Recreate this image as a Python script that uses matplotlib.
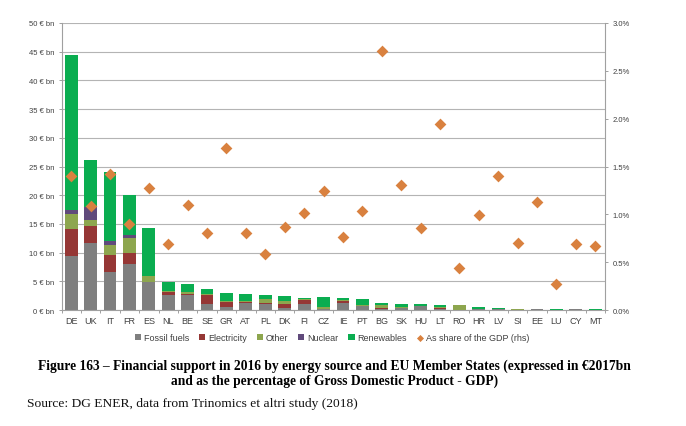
import numpy as np
import matplotlib
matplotlib.use("Agg")
import matplotlib.pyplot as plt
from matplotlib.ticker import FuncFormatter

countries = ["DE","UK","IT","FR","ES","NL","BE","SE","GR","AT","PL","DK","FI","CZ","IE","PT","BG","SK","HU","LT","RO","HR","LV","SI","EE","LU","CY","MT"]
fossil = [9.4,11.6,6.6,8.0,4.9,2.6,2.6,1.1,0.6,1.2,1.1,0.3,1.1,0.2,1.15,0.7,0.25,0.3,0.7,0.2,0.05,0.1,0.2,0.05,0.1,0.03,0.1,0.02]
electricity = [4.7,3.0,2.9,1.9,0.05,0.6,0.2,1.5,0.8,0.2,0.1,0.7,0.65,0.05,0.4,0.0,0.05,0.1,0.0,0.15,0.0,0.0,0.0,0.0,0.03,0.0,0.0,0.0]
other = [2.6,1.0,1.9,2.6,0.95,0.1,0.3,0.15,0.1,0.1,0.65,0.5,0.15,0.25,0.25,0.1,0.65,0.05,0.0,0.25,0.75,0.05,0.05,0.05,0.02,0.0,0.05,0.0]
nuclear = [0.7,2.3,0.6,0.6,0.0,0.0,0.0,0.0,0.0,0.0,0.0,0.0,0.0,0.0,0.0,0.0,0.0,0.05,0.0,0.0,0.0,0.0,0.0,0.0,0.0,0.0,0.0,0.0]
renewables = [27.0,8.3,12.1,7.0,8.4,1.5,1.5,0.95,1.4,1.3,0.7,0.9,0.25,1.7,0.25,1.1,0.35,0.6,0.3,0.2,0.05,0.35,0.1,0.15,0.1,0.07,0.05,0.1]
gdp_share = [1.40,1.09,1.42,0.90,1.28,0.69,1.10,0.80,1.69,0.81,0.59,0.87,1.01,1.24,0.76,1.03,2.71,1.31,0.86,1.94,0.44,0.99,1.40,0.70,1.13,0.27,0.69,0.67]

series_names = ["Fossil fuels","Electricity","Other","Nuclear","Renewables"]
series_colors = ["#7F7F7F","#953735","#8DA64E","#604A7B","#0AAD50"]
series_values = [fossil, electricity, other, nuclear, renewables]

plt.rcParams["font.family"] = ["Liberation Sans","DejaVu Sans"]
fig = plt.figure(figsize=(6.86,4.27), dpi=100)
W,H = 686,427
ax = fig.add_axes([61.5/W, 1-311/H, (605-61.5)/W, (311-24)/H])
x = np.arange(len(countries))
bottom = np.zeros(len(countries))
for name,col,vals in zip(series_names,series_colors,series_values):
    ax.bar(x, vals, 0.66, bottom=bottom, color=col, label=name, zorder=2, linewidth=0)
    bottom += np.array(vals)
ax.set_xlim(-0.5,len(countries)-0.5)
ax.set_ylim(0,50)
ax.set_yticks(range(0,51,5))
ax.yaxis.set_major_formatter(FuncFormatter(lambda v,p: f"{int(v)} € bn"))
ax.set_xticks(x)
ax.set_xticklabels(countries)
ax.set_xticks(np.arange(-0.5,len(countries)),minor=True)
ax.grid(axis="y", color="#B4B4B4", lw=0.8, zorder=0)
ax.set_axisbelow(True)
ax.tick_params(axis="y", labelsize=5.5, length=2.5, color="#A0A0A0", width=0.7, labelcolor="#404040", pad=2.5)
ax.tick_params(axis="x", which="major", labelsize=6.5, length=0, labelcolor="#404040", pad=4.5)
ax.tick_params(axis="x", which="minor", length=2, color="#A0A0A0", width=0.7)
for s in ["top","right"]:
    ax.spines[s].set_visible(False)
for s in ["left","bottom"]:
    ax.spines[s].set_color("#A0A0A0"); ax.spines[s].set_linewidth(0.8)

ax2 = ax.twinx()
ax2.set_ylim(0,3)
ax2.set_yticks(np.arange(0,3.01,0.5))
ax2.yaxis.set_major_formatter(FuncFormatter(lambda v,p: f"{v:.1f}%"))
ax2.tick_params(axis="y", labelsize=5.5, length=2.5, color="#A0A0A0", width=0.7, labelcolor="#404040", pad=3)
for s in ["top","left","bottom"]:
    ax2.spines[s].set_visible(False)
ax2.spines["right"].set_color("#A0A0A0"); ax2.spines["right"].set_linewidth(0.8)
ax2.scatter(x, gdp_share, marker="D", s=36, color="#D9813F", linewidths=0, zorder=5, label="As share of the GDP (rhs)")

h1,l1 = ax.get_legend_handles_labels()
h2,l2 = ax2.get_legend_handles_labels()
fig.legend(h1+h2,l1+l2,loc="center",bbox_to_anchor=(332/W,1-338.5/H),ncol=6,frameon=False,
           fontsize=6.5,handlelength=0.7,handleheight=0.7,handletextpad=0.3,columnspacing=1.1,labelcolor="#404040",
           scatterpoints=1,markerscale=0.6)

serif = ["Liberation Serif","DejaVu Serif"]
fig.text(334.5/W,1-366/H,"Figure 163 – Financial support in 2016 by energy source and EU Member States (expressed in €2017bn",
         family=serif,weight="bold",fontsize=9.75,ha="center",va="center",color="black")
fig.text(334.5/W,1-381/H,"and as the percentage of Gross Domestic Product - GDP)",
         family=serif,weight="bold",fontsize=9.75,ha="center",va="center",color="black")
fig.text(27/W,1-404/H,"Source: DG ENER, data from Trinomics et altri study (2018)",
         family=serif,fontsize=9.7,ha="left",va="center",color="#111111")
fig.savefig("out.png",dpi=100)
